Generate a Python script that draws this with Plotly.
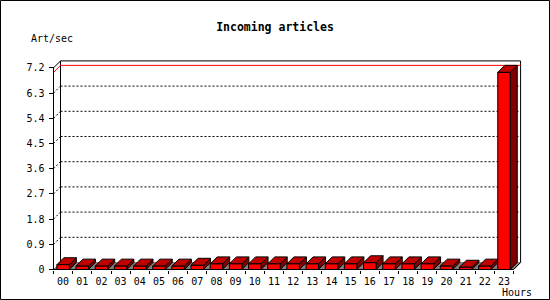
import plotly.graph_objects as go

# ---------------- data ----------------
hours = ["00", "01", "02", "03", "04", "05", "06", "07", "08", "09", "10", "11",
         "12", "13", "14", "15", "16", "17", "18", "19", "20", "21", "22", "23"]
rate = [0.17, 0.12, 0.12, 0.12, 0.12, 0.12, 0.12, 0.15, 0.20, 0.20, 0.20, 0.20,
        0.20, 0.20, 0.20, 0.20, 0.24, 0.20, 0.20, 0.20, 0.12, 0.08, 0.12, 7.04]
y_tick_vals = [0, 0.9, 1.8, 2.7, 3.6, 4.5, 5.4, 6.3, 7.2]
y_tick_text = ["0", "0.9", "1.8", "2.7", "3.6", "4.5", "5.4", "6.3", "7.2"]
title_text = "Incoming articles"
y_title = "Art/sec"
x_title = "Hours"

# ---------------- layout geometry ----------------
FIG_W, FIG_H = 550, 300
L, R, T, B = 49, 26, 56, 26
W, H = FIG_W - L - R, FIG_H - T - B
FL, FB = 53.5, 269.5          # pixel of front-left axis / zero line
SW, YS = 19.17, 28.0          # px per category slot / per unit
DPX = 7.0                     # 3D depth in px
dx, dy = DPX / SW, DPX / YS
bar_w = 12.5 / SW
y_top = y_tick_vals[-1]
n = len(hours)
xl, xr = -0.5, n - 0.5

x_range = [-0.5 - (FL - L) / SW, -0.5 + (FIG_W - R - FL) / SW]
y_range = [-(FIG_H - B - FB) / YS, (FB - T) / YS]

def px(x):
    return (x - L) / W

def py(y):
    return (FIG_H - B - y) / H

FONT = "DejaVu Sans Mono"
fig = go.Figure()

def poly(xs, ys, fill, lc="black"):
    fig.add_trace(go.Scatter(x=xs + [xs[0]], y=ys + [ys[0]], mode="lines",
                             fill="toself", fillcolor=fill,
                             line=dict(color=lc, width=1),
                             hoverinfo="skip", showlegend=False))

def line(xs, ys, color="black", dash="solid"):
    fig.add_trace(go.Scatter(x=xs, y=ys, mode="lines",
                             line=dict(color=color, width=1, dash=dash),
                             hoverinfo="skip", showlegend=False))

# back plane outline
line([xl + dx, xl + dx, xr + dx, xr + dx, xr],
     [dy, y_top + dy, y_top + dy, dy, 0])
# floor
poly([xl, xr, xr + dx, xl + dx], [0, 0, dy, dy], "#808080", lc="#808080")
line([xr, xr + dx], [0, dy])
# dotted gridlines on back wall and left wall
for v in y_tick_vals[1:-1]:
    line([xl + dx, xr + dx], [v + dy, v + dy], dash="2px,2px")
    line([xl, xl + dx], [v, v + dy], dash="2px,2px")
# max line
vmax = max(rate)
line([xl, xl + dx, xr + dx], [vmax, vmax + dy, vmax + dy], color="#FF0000")

# bars
for i, v in enumerate(rate):
    a, b = i - bar_w / 2, i + bar_w / 2
    poly([b, b + dx, b + dx, b], [0, dy, v + dy, v], "#800000")
    poly([a, b, b + dx, a + dx], [v, v, v + dy, v + dy], "#C00000")
    poly([a, b, b, a], [0, 0, v, v], "#FF0000")

# front axes
line([xl + dx, xl, xl, xr], [y_top + dy, y_top, 0, 0])

fig.update_layout(
    width=FIG_W, height=FIG_H,
    margin=dict(l=L, r=R, t=T, b=B, pad=0),
    paper_bgcolor="white", plot_bgcolor="white",
    showlegend=False,
    font=dict(family=FONT, size=10, color="black"),
    title=dict(text=title_text, xref="container", x=0.5, xanchor="center",
               yref="container", y=1 - 27 / FIG_H, yanchor="middle",
               font=dict(family=FONT, size=11.5, color="black", weight="bold")),
    xaxis=dict(range=x_range, anchor="free", position=py(FB),
               tickmode="array", tickvals=list(range(n)), ticktext=hours,
               ticks="", showgrid=False, zeroline=False, showline=False,
               ticklabelstandoff=4,
               tickfont=dict(family=FONT, size=10, color="black"),
               minor=dict(tickmode="array",
                          tickvals=[i - 0.5 for i in range(n + 1)],
                          ticks="outside", ticklen=3, tickcolor="black",
                          showgrid=False),
               fixedrange=True),
    yaxis=dict(range=y_range, anchor="free", position=px(FL),
               tickmode="array", tickvals=y_tick_vals, ticktext=y_tick_text,
               ticks="outside", ticklen=5, tickcolor="black",
               ticklabelstandoff=2,
               showgrid=False, zeroline=False, showline=False,
               tickfont=dict(family=FONT, size=10, color="black"),
               fixedrange=True),
    annotations=[
        dict(text=y_title, xref="paper", yref="paper", x=px(29), y=py(38),
             xanchor="left", yanchor="middle", showarrow=False,
             font=dict(family=FONT, size=10, color="black")),
        dict(text=x_title, xref="paper", yref="paper", x=px(534), y=py(292),
             xanchor="right", yanchor="middle", showarrow=False,
             font=dict(family=FONT, size=10, color="black")),
    ],
    shapes=[dict(type="rect", xref="paper", yref="paper",
                 x0=px(0.5), x1=px(549.5), y0=py(0.5), y1=py(299.5),
                 line=dict(color="black", width=1), fillcolor="rgba(0,0,0,0)",
                 layer="above")],
)

fig.write_html("out.html")
